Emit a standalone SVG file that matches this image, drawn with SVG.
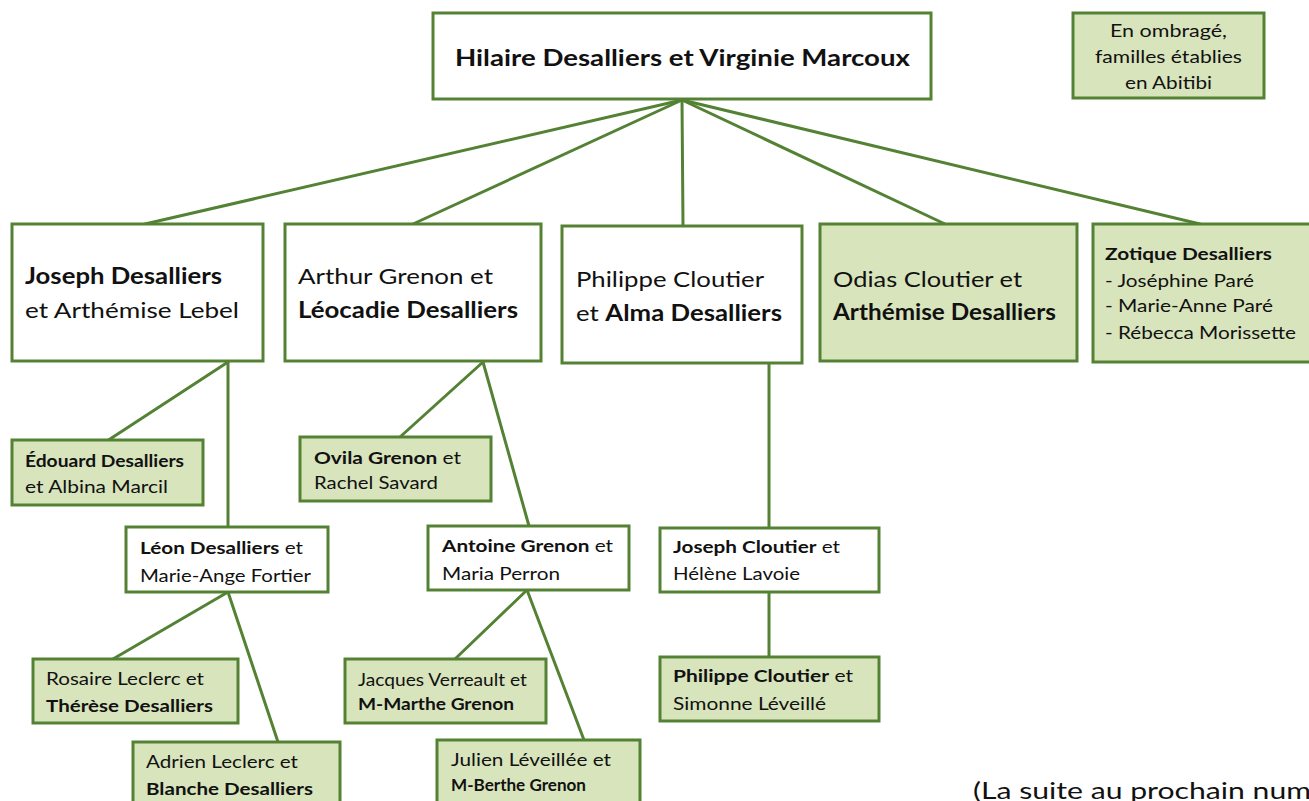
<svg xmlns="http://www.w3.org/2000/svg" width="1309" height="801" viewBox="0 0 1309 801">
<style>
.box{fill:#ffffff;stroke:#548235;stroke-width:3}
.sh{fill:#d8e4bc}
.ln{stroke:#548235;stroke-width:3;fill:none;stroke-linecap:round}
text{font-family:Lato,"Open Sans","Liberation Sans",sans-serif;fill:#111111}
.L{font-size:22px}
.S{font-size:17px}
.X{font-size:24px}
.b{font-weight:bold}
</style>
<rect width="1309" height="801" fill="#ffffff"/>
<g id="connectors">
<line class="ln" x1="682" y1="100" x2="145" y2="224"/>
<line class="ln" x1="682" y1="100" x2="413" y2="224"/>
<line class="ln" x1="682" y1="100" x2="683" y2="226"/>
<line class="ln" x1="682" y1="100" x2="945" y2="224"/>
<line class="ln" x1="682" y1="100" x2="1200" y2="224"/>
<line class="ln" x1="228" y1="362" x2="107" y2="441"/>
<line class="ln" x1="228" y1="362" x2="228" y2="527"/>
<line class="ln" x1="483" y1="362" x2="400" y2="437"/>
<line class="ln" x1="483" y1="362" x2="529" y2="526"/>
<line class="ln" x1="769" y1="363" x2="769" y2="528"/>
<line class="ln" x1="769" y1="592" x2="769" y2="657"/>
<line class="ln" x1="228" y1="592" x2="113" y2="659"/>
<line class="ln" x1="228" y1="592" x2="278" y2="742"/>
<line class="ln" x1="527" y1="590" x2="455" y2="659"/>
<line class="ln" x1="527" y1="590" x2="584" y2="740"/>
</g>
<g id="root">
<rect class="box" x="433" y="13" width="498" height="86"/>
<text class="L b" x="455" y="66" textLength="455" lengthAdjust="spacingAndGlyphs">Hilaire Desalliers et Virginie Marcoux</text>
</g>
<g id="legend">
<rect class="box sh" x="1073" y="13" width="191" height="85"/>
<text class="S" x="1110" y="37" textLength="117" lengthAdjust="spacingAndGlyphs">En ombragé,</text>
<text class="S" x="1095" y="63" textLength="147" lengthAdjust="spacingAndGlyphs">familles établies</text>
<text class="S" x="1125" y="89" textLength="87" lengthAdjust="spacingAndGlyphs">en Abitibi</text>
</g>
<g id="joseph">
<rect class="box" x="12" y="224" width="251" height="137"/>
<text class="L b" x="25" y="284" textLength="197" lengthAdjust="spacingAndGlyphs">Joseph Desalliers</text>
<text class="L" x="25" y="318" textLength="214" lengthAdjust="spacingAndGlyphs">et Arthémise Lebel</text>
</g>
<g id="arthur">
<rect class="box" x="285" y="224" width="256" height="137"/>
<text class="L" x="298" y="284" textLength="195" lengthAdjust="spacingAndGlyphs">Arthur Grenon et</text>
<text class="L b" x="298" y="318" textLength="220" lengthAdjust="spacingAndGlyphs">Léocadie Desalliers</text>
</g>
<g id="philippe">
<rect class="box" x="562" y="226" width="240" height="137"/>
<text class="L" x="576" y="287" textLength="188" lengthAdjust="spacingAndGlyphs">Philippe Cloutier</text>
<text class="L" x="576" y="321" textLength="206" lengthAdjust="spacingAndGlyphs">et <tspan class="b">Alma Desalliers</tspan></text>
</g>
<g id="odias">
<rect class="box sh" x="820" y="224" width="257" height="137"/>
<text class="L" x="833" y="287" textLength="189" lengthAdjust="spacingAndGlyphs">Odias Cloutier et</text>
<text class="L b" x="833" y="320" textLength="223" lengthAdjust="spacingAndGlyphs">Arthémise Desalliers</text>
</g>
<g id="zotique">
<rect class="box sh" x="1093" y="224" width="222" height="138"/>
<text class="S b" x="1105" y="260" textLength="167" lengthAdjust="spacingAndGlyphs">Zotique Desalliers</text>
<text class="S" x="1105" y="287" textLength="149" lengthAdjust="spacingAndGlyphs">- Joséphine Paré</text>
<text class="S" x="1105" y="312" textLength="168" lengthAdjust="spacingAndGlyphs">- Marie-Anne Paré</text>
<text class="S" x="1105" y="339" textLength="191" lengthAdjust="spacingAndGlyphs">- Rébecca Morissette</text>
</g>
<g id="edouard">
<rect class="box sh" x="12" y="440" width="191" height="65"/>
<text class="S b" x="25" y="467" textLength="159" lengthAdjust="spacingAndGlyphs">Édouard Desalliers</text>
<text class="S" x="25" y="493" textLength="143" lengthAdjust="spacingAndGlyphs">et Albina Marcil</text>
</g>
<g id="leon">
<rect class="box" x="126" y="527" width="202" height="65"/>
<text class="S" x="140" y="554" textLength="163" lengthAdjust="spacingAndGlyphs"><tspan class="b">Léon Desalliers</tspan> et</text>
<text class="S" x="140" y="582" textLength="171" lengthAdjust="spacingAndGlyphs">Marie-Ange Fortier</text>
</g>
<g id="ovila">
<rect class="box sh" x="300" y="437" width="191" height="64"/>
<text class="S" x="314" y="464" textLength="147" lengthAdjust="spacingAndGlyphs"><tspan class="b">Ovila Grenon</tspan> et</text>
<text class="S" x="314" y="489" textLength="124" lengthAdjust="spacingAndGlyphs">Rachel Savard</text>
</g>
<g id="antoine">
<rect class="box" x="428" y="526" width="201" height="64"/>
<text class="S" x="442" y="552" textLength="171" lengthAdjust="spacingAndGlyphs"><tspan class="b">Antoine Grenon</tspan> et</text>
<text class="S" x="442" y="580" textLength="118" lengthAdjust="spacingAndGlyphs">Maria Perron</text>
</g>
<g id="josephcloutier">
<rect class="box" x="660" y="528" width="219" height="64"/>
<text class="S" x="673" y="553" textLength="167" lengthAdjust="spacingAndGlyphs"><tspan class="b">Joseph Cloutier</tspan> et</text>
<text class="S" x="673" y="580" textLength="127" lengthAdjust="spacingAndGlyphs">Hélène Lavoie</text>
</g>
<g id="philippecloutier">
<rect class="box sh" x="660" y="657" width="219" height="64"/>
<text class="S" x="673" y="682" textLength="180" lengthAdjust="spacingAndGlyphs"><tspan class="b">Philippe Cloutier</tspan> et</text>
<text class="S" x="673" y="710" textLength="153" lengthAdjust="spacingAndGlyphs">Simonne Léveillé</text>
</g>
<g id="rosaire">
<rect class="box sh" x="33" y="659" width="205" height="64"/>
<text class="S" x="46" y="685" textLength="158" lengthAdjust="spacingAndGlyphs">Rosaire Leclerc et</text>
<text class="S b" x="46" y="712" textLength="167" lengthAdjust="spacingAndGlyphs">Thérèse Desalliers</text>
</g>
<g id="adrien">
<rect class="box sh" x="133" y="742" width="207" height="66"/>
<text class="S" x="146" y="768" textLength="152" lengthAdjust="spacingAndGlyphs">Adrien Leclerc et</text>
<text class="S b" x="146" y="795" textLength="167" lengthAdjust="spacingAndGlyphs">Blanche Desalliers</text>
</g>
<g id="jacques">
<rect class="box sh" x="345" y="659" width="201" height="64"/>
<text class="S" x="358" y="686" textLength="169" lengthAdjust="spacingAndGlyphs">Jacques Verreault et</text>
<text class="S b" x="358" y="710" textLength="156" lengthAdjust="spacingAndGlyphs">M-Marthe Grenon</text>
</g>
<g id="julien">
<rect class="box sh" x="437" y="740" width="203" height="68"/>
<text class="S" x="451" y="766" textLength="160" lengthAdjust="spacingAndGlyphs">Julien Léveillée et</text>
<text class="S b" x="451" y="791" textLength="135" lengthAdjust="spacingAndGlyphs">M-Berthe Grenon</text>
</g>
<text class="X" x="973" y="799" textLength="338" lengthAdjust="spacingAndGlyphs">(La suite au prochain num</text>
</svg>
